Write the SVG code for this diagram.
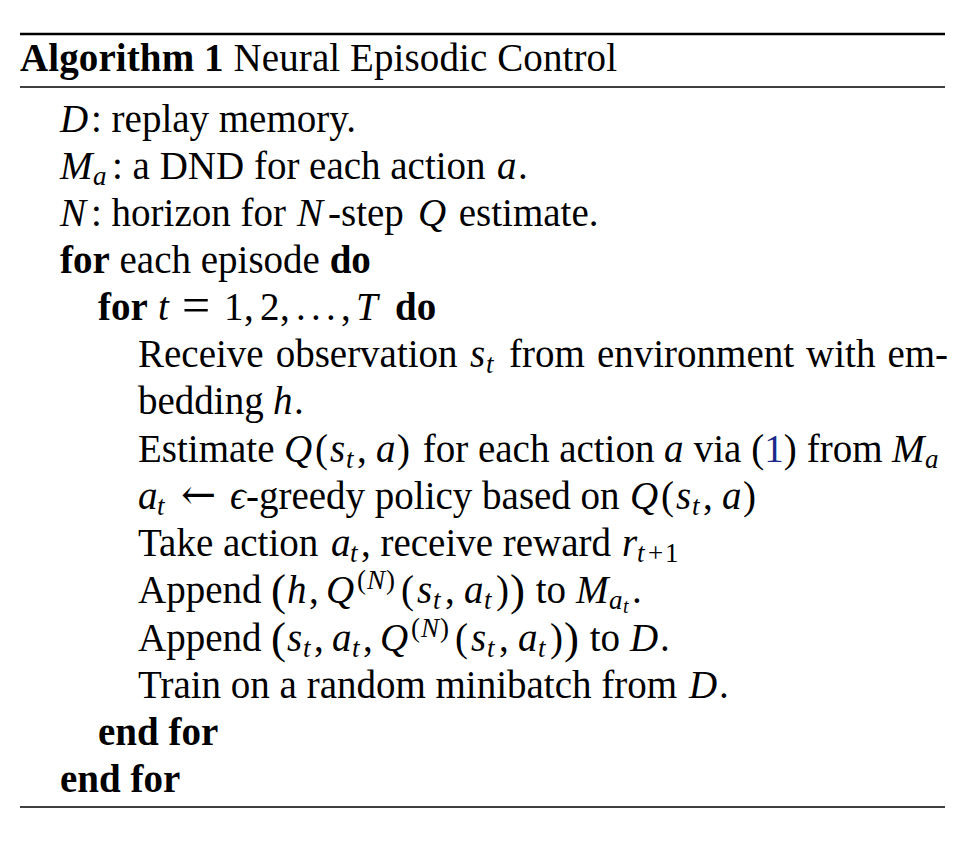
<svg xmlns="http://www.w3.org/2000/svg" width="980" height="856" viewBox="0 0 980 856">
<style>
text{font-family:"Liberation Serif","Times New Roman",serif;font-size:39px;fill:#000}
.b{font-weight:bold}
.i{font-style:italic}
.s{font-size:27px}
.ss{font-size:20px}
.bp{font-size:45px}
.eq{font-size:50px}
.arr{font-family:"DejaVu Serif",serif;font-size:42px}
.ref{fill:#1a2a8a}
.rule{stroke:#000}
</style>
<rect width="980" height="856" fill="#fff"/>
<g id="rules">
<line class="rule" x1="20" y1="34" x2="945" y2="34" stroke-width="2.6"/>
<line class="rule" x1="20" y1="87" x2="945" y2="87" stroke-width="1.6"/>
<line class="rule" x1="20" y1="807" x2="945" y2="807" stroke-width="1.6"/>
</g>
<g id="title">
<text x="20" y="71" textLength="597"><tspan class="b">Algorithm 1</tspan> Neural Episodic Control</text>
</g>
<g id="body">
<text x="60" y="132"><tspan class="i">D</tspan><tspan x="91">: replay memory.</tspan></text>

<text x="60" y="179"><tspan class="i">M</tspan><tspan class="i s" x="93" y="185">a</tspan><tspan x="112" y="179">: a DND for each action </tspan><tspan class="i" x="497">a</tspan><tspan x="518">.</tspan></text>

<text x="60" y="226"><tspan class="i">N</tspan><tspan x="91">: horizon for </tspan><tspan class="i" x="297">N</tspan><tspan x="328">-step </tspan><tspan class="i" x="418">Q</tspan><tspan x="449"> estimate.</tspan></text>

<text x="60" y="273"><tspan class="b">for</tspan> each episode <tspan class="b">do</tspan></text>

<text x="98" y="320"><tspan class="b">for</tspan><tspan class="i" x="158">t</tspan><tspan class="eq" x="182" y="322">=</tspan><tspan x="224" y="320">1</tspan><tspan x="244">,</tspan><tspan x="260">2</tspan><tspan x="280">,</tspan><tspan x="296">.</tspan><tspan x="311">.</tspan><tspan x="326">.</tspan><tspan x="341">,</tspan><tspan class="i" x="356">T</tspan><tspan class="b" x="395">do</tspan></text>

<text x="138" y="367" word-spacing="2.3">Receive observation <tspan class="i" x="470" word-spacing="0">s</tspan><tspan class="i s" x="486" y="373">t</tspan><tspan x="497" y="367"> from environment with em-</tspan></text>

<text x="138" y="414">bedding <tspan class="i" x="273">h</tspan><tspan x="294">.</tspan></text>

<text x="138" y="462">Estimate <tspan class="i" x="284">Q</tspan><tspan x="315">(</tspan><tspan class="i" x="330">s</tspan><tspan class="i s" x="346" y="468">t</tspan><tspan x="357" y="462">,</tspan><tspan class="i" x="376">a</tspan><tspan x="397">)</tspan><tspan x="413"> for each action </tspan><tspan class="i" x="664">a</tspan><tspan x="684"> via (</tspan><tspan class="ref">1</tspan>)<tspan x="797"> from </tspan><tspan class="i" x="892">M</tspan><tspan class="i s" x="925" y="468">a</tspan></text>

<text x="138" y="509"><tspan class="i">a</tspan><tspan class="i s" x="157" y="515">t</tspan><tspan class="arr" x="181" y="509">←</tspan><tspan class="i" x="230">ϵ</tspan><tspan x="246">-greedy policy based on </tspan><tspan class="i" x="630">Q</tspan><tspan x="661">(</tspan><tspan class="i" x="676">s</tspan><tspan class="i s" x="692" y="515">t</tspan><tspan x="703" y="509">,</tspan><tspan class="i" x="722">a</tspan><tspan x="743">)</tspan></text>

<text x="138" y="556">Take action <tspan class="i" x="331">a</tspan><tspan class="i s" x="350" y="562">t</tspan><tspan x="361" y="556">, receive reward </tspan><tspan class="i" x="622">r</tspan><tspan class="i s" x="637" y="562">t</tspan><tspan class="s" x="648">+</tspan><tspan class="s" x="665">1</tspan></text>

<text x="138" y="603">Append <tspan class="bp" x="271" y="605">(</tspan><tspan class="i" x="287" y="603">h</tspan><tspan x="309">,</tspan><tspan class="i" x="326">Q</tspan><tspan class="s" x="357" y="589">(</tspan><tspan class="i s" x="367">N</tspan><tspan class="s" x="386">)</tspan><tspan x="401" y="603">(</tspan><tspan class="i" x="417">s</tspan><tspan class="i s" x="433" y="609">t</tspan><tspan x="445" y="603">,</tspan><tspan class="i" x="464">a</tspan><tspan class="i s" x="484" y="609">t</tspan><tspan x="496" y="603">)</tspan><tspan class="bp" x="510" y="605">)</tspan><tspan x="526" y="603"> to </tspan><tspan class="i" x="576">M</tspan><tspan class="i s" x="609" y="609">a</tspan><tspan class="i ss" x="623" y="613">t</tspan><tspan x="632" y="603">.</tspan></text>

<text x="138" y="651">Append <tspan class="bp" x="271" y="653">(</tspan><tspan class="i" x="287" y="651">s</tspan><tspan class="i s" x="303" y="657">t</tspan><tspan x="314" y="651">,</tspan><tspan class="i" x="332">a</tspan><tspan class="i s" x="352" y="657">t</tspan><tspan x="363" y="651">,</tspan><tspan class="i" x="380">Q</tspan><tspan class="s" x="411" y="637">(</tspan><tspan class="i s" x="421">N</tspan><tspan class="s" x="440">)</tspan><tspan x="455" y="651">(</tspan><tspan class="i" x="471">s</tspan><tspan class="i s" x="487" y="657">t</tspan><tspan x="499" y="651">,</tspan><tspan class="i" x="518">a</tspan><tspan class="i s" x="538" y="657">t</tspan><tspan x="550" y="651">)</tspan><tspan class="bp" x="564" y="653">)</tspan><tspan x="580" y="651"> to </tspan><tspan class="i" x="630">D</tspan><tspan x="660">.</tspan></text>

<text x="138" y="698">Train on a random minibatch from <tspan class="i" x="689">D</tspan><tspan x="719">.</tspan></text>

<text x="98" y="745" class="b">end for</text>
<text x="60" y="792" class="b">end for</text>
</g>
</svg>
